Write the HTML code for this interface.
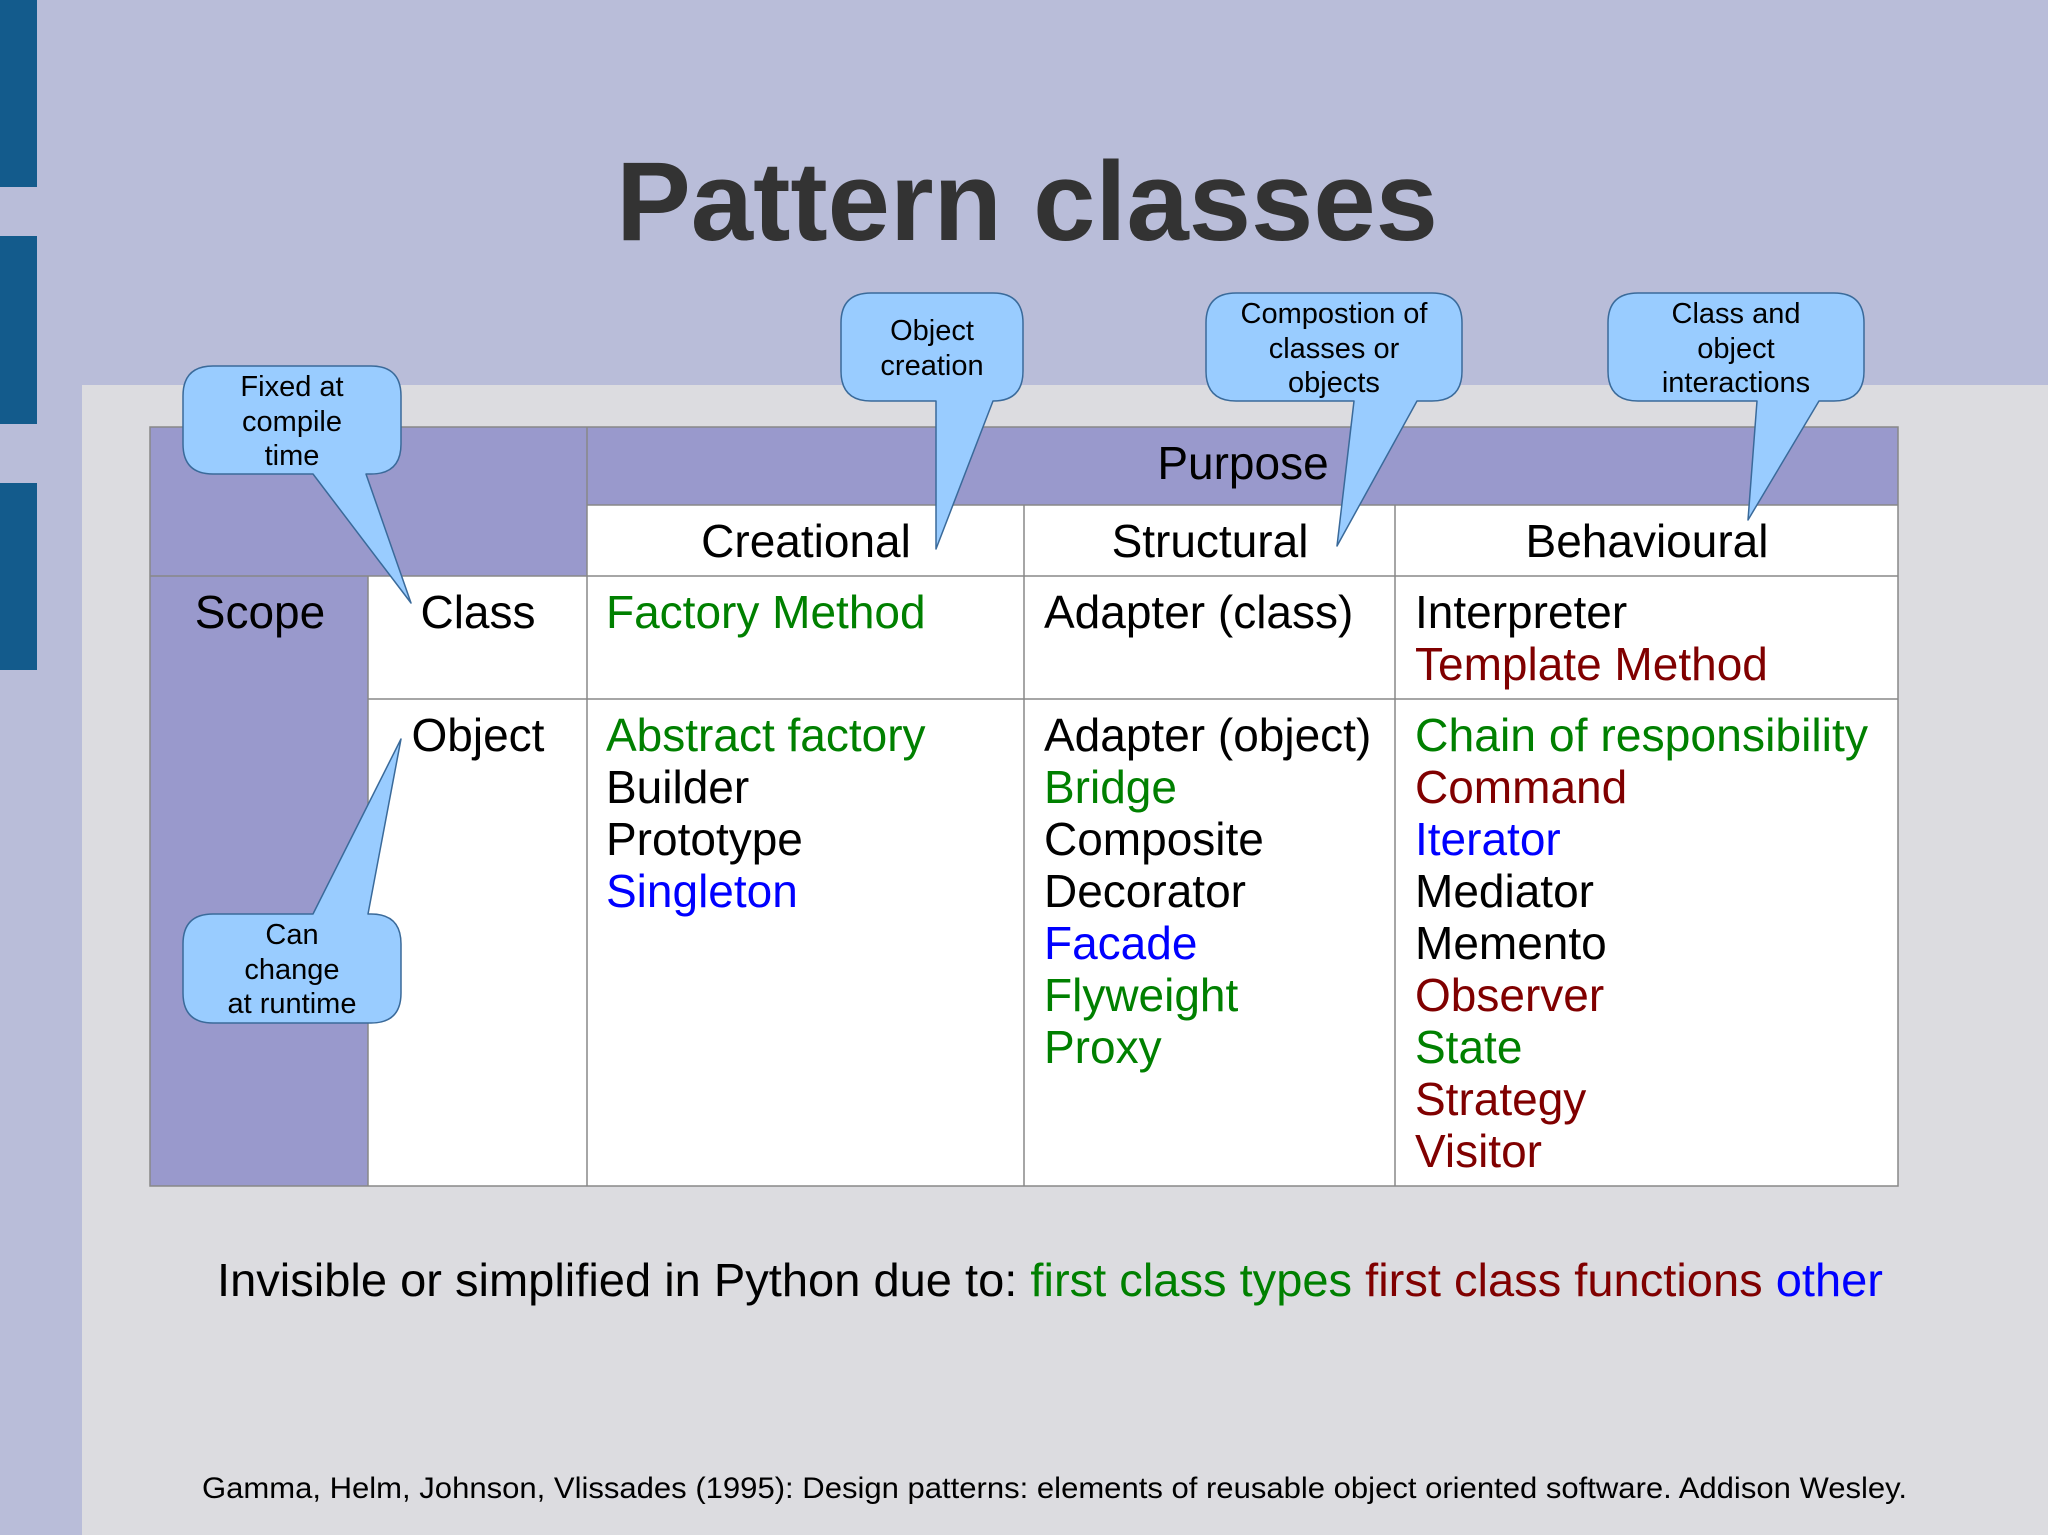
<!DOCTYPE html>
<html><head><meta charset="utf-8"><style>
html,body{margin:0;padding:0;background:#dcdce0}
svg{display:block}
text{font-family:"Liberation Sans",sans-serif}
</style></head><body>
<svg width="2048" height="1535" viewBox="0 0 2048 1535" xmlns="http://www.w3.org/2000/svg">
<rect x="0" y="0" width="2048" height="1535" fill="#dcdce0"/>
<rect x="0" y="0" width="2048" height="385" fill="#b9bdd9"/>
<rect x="0" y="0" width="82" height="1535" fill="#b9bdd9"/>
<rect x="0" y="0" width="37" height="187" fill="#135b8c"/>
<rect x="0" y="236" width="37" height="188" fill="#135b8c"/>
<rect x="0" y="483" width="37" height="187" fill="#135b8c"/>
<text x="1027" y="240" font-size="112" font-weight="bold" fill="#333333" text-anchor="middle">Pattern classes</text>

<!-- table -->
<rect x="150" y="427" width="1748" height="759" fill="#ffffff"/>
<rect x="150" y="427" width="1748" height="78" fill="#9999cc"/>
<rect x="150" y="427" width="437" height="149" fill="#9999cc"/>
<rect x="150" y="576" width="218" height="610" fill="#9999cc"/>
<g stroke="#888" stroke-width="1.5" fill="none">
<rect x="150" y="427" width="1748" height="759"/>
<line x1="587" y1="427" x2="587" y2="1186"/>
<line x1="587" y1="505" x2="1898" y2="505"/>
<line x1="150" y1="576" x2="1898" y2="576"/>
<line x1="368" y1="699" x2="1898" y2="699"/>
<line x1="368" y1="576" x2="368" y2="1186"/>
<line x1="1024" y1="505" x2="1024" y2="1186"/>
<line x1="1395" y1="505" x2="1395" y2="1186"/>
</g>
<g font-size="46" fill="#000">
<text x="1243" y="479" text-anchor="middle">Purpose</text>
<text x="806" y="557" text-anchor="middle">Creational</text>
<text x="1210" y="557" text-anchor="middle">Structural</text>
<text x="1647" y="557" text-anchor="middle">Behavioural</text>
<text x="260" y="628" text-anchor="middle">Scope</text>
<text x="478" y="628" text-anchor="middle">Class</text>
<text x="478" y="751" text-anchor="middle">Object</text>
<text x="606" y="628" fill="#008000">Factory Method</text>
<text x="1044" y="628">Adapter (class)</text>
<text x="1415" y="628">Interpreter</text>
<text x="1415" y="680" fill="#800000">Template Method</text>
<text x="606" y="751" fill="#008000">Abstract factory</text>
<text x="606" y="803">Builder</text>
<text x="606" y="855">Prototype</text>
<text x="606" y="907" fill="#0000ff">Singleton</text>
<text x="1044" y="751">Adapter (object)</text>
<text x="1044" y="803" fill="#008000">Bridge</text>
<text x="1044" y="855">Composite</text>
<text x="1044" y="907">Decorator</text>
<text x="1044" y="959" fill="#0000ff">Facade</text>
<text x="1044" y="1011" fill="#008000">Flyweight</text>
<text x="1044" y="1063" fill="#008000">Proxy</text>
<text x="1415" y="751" fill="#008000" textLength="453" lengthAdjust="spacingAndGlyphs">Chain of responsibility</text>
<text x="1415" y="803" fill="#800000">Command</text>
<text x="1415" y="855" fill="#0000ff">Iterator</text>
<text x="1415" y="907">Mediator</text>
<text x="1415" y="959">Memento</text>
<text x="1415" y="1011" fill="#800000">Observer</text>
<text x="1415" y="1063" fill="#008000">State</text>
<text x="1415" y="1115" fill="#800000">Strategy</text>
<text x="1415" y="1167" fill="#800000">Visitor</text>
</g>

<!-- callouts -->
<g fill="#99ccff" stroke="#3a6a9a" stroke-width="1.5" stroke-linejoin="round">
<path d="M213,366 H371 Q401,366 401,396 V444 Q401,474 371,474 H366 L411,603 L313,474 H213 Q183,474 183,444 V396 Q183,366 213,366 Z"/>
<path d="M871,293 H993 Q1023,293 1023,323 V371 Q1023,401 993,401 L936,549 L936,401 H871 Q841,401 841,371 V323 Q841,293 871,293 Z"/>
<path d="M1236,293 H1432 Q1462,293 1462,323 V371 Q1462,401 1432,401 H1417 L1337,546 L1354,401 H1236 Q1206,401 1206,371 V323 Q1206,293 1236,293 Z"/>
<path d="M1638,293 H1834 Q1864,293 1864,323 V371 Q1864,401 1834,401 H1819 L1748,520 L1757,401 H1638 Q1608,401 1608,371 V323 Q1608,293 1638,293 Z"/>
<path d="M213,914 H313 L401,739 L368,914 H371 Q401,914 401,944 V993 Q401,1023 371,1023 H213 Q183,1023 183,993 V944 Q183,914 213,914 Z"/>
</g>
<g font-size="29" fill="#000" text-anchor="middle">
<text x="292" y="396">Fixed at</text><text x="292" y="431">compile</text><text x="292" y="465">time</text>
<text x="932" y="340">Object</text><text x="932" y="375">creation</text>
<text x="1334" y="323">Compostion of</text><text x="1334" y="358">classes or</text><text x="1334" y="392">objects</text>
<text x="1736" y="323">Class and</text><text x="1736" y="358">object</text><text x="1736" y="392">interactions</text>
<text x="292" y="944">Can</text><text x="292" y="979">change</text><text x="292" y="1013">at runtime</text>
</g>

<text x="217" y="1296" font-size="46" fill="#000" textLength="1666" lengthAdjust="spacingAndGlyphs">Invisible or simplified in Python due to: <tspan fill="#008000">first class types</tspan>  <tspan fill="#800000">first class functions</tspan>  <tspan fill="#0000ff">other</tspan></text>
<text x="202" y="1498" font-size="30" fill="#000" textLength="1705" lengthAdjust="spacingAndGlyphs">Gamma, Helm, Johnson, Vlissades (1995): Design patterns: elements of reusable object oriented software. Addison Wesley.</text>
</svg>
</body></html>
